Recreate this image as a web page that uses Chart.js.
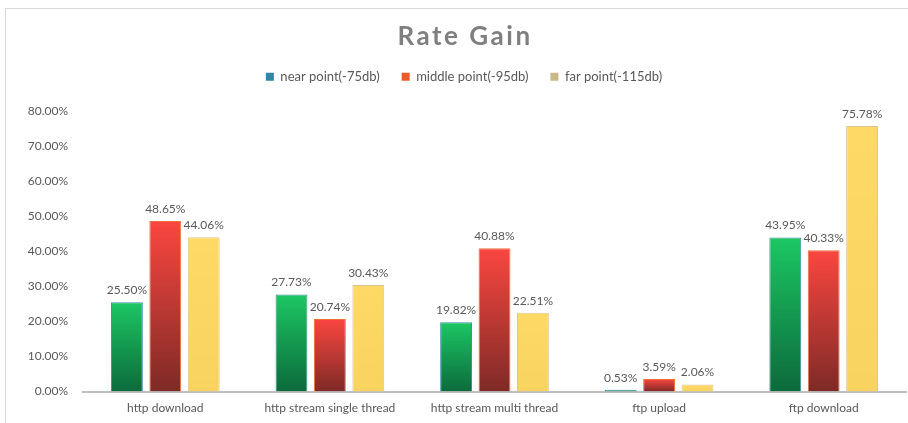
<!DOCTYPE html>
<html>
<head>
<meta charset="utf-8">
<script src="https://cdn.jsdelivr.net/npm/chart.js@4/dist/chart.umd.min.js"></script>
<style>
  html, body { margin: 0; padding: 0; background: #fff; }
  #wrap { position: relative; width: 908px; height: 423px; }
  #frame { position: absolute; left: 5px; top: 8px; right: 0; bottom: 0; border-left: 1px solid #d9d9d9; border-top: 1px solid #d9d9d9; }
  #rate-gain { position: absolute; left: 0; top: 0; }
</style>
</head>
<body>
<div id="wrap">
  <div id="frame"></div>
  <canvas id="rate-gain" width="908" height="423"></canvas>
</div>
<script>
(function() {

  const categorias = ['http download', 'http stream single thread', 'http stream multi thread', 'ftp upload', 'ftp download'];
  const nearPoint = [25.50, 27.73, 19.82, 0.53, 43.95];
  const middlePoint = [48.65, 20.74, 40.88, 3.59, 40.33];
  const farPoint = [44.06, 30.43, 22.51, 2.06, 75.78];
  const yTicks = [0, 10, 20, 30, 40, 50, 60, 70, 80];

  const fuente = 'Lato, "Open Sans", sans-serif';
  const gris = '#595959';
  const titulo = 'Rate Gain';
  const corrimiento = 11; // titulo y leyenda algo a la derecha, como en el original

  // degradado vertical de cada barra, de la punta a la base
  function degradado(arriba, abajo) {
    return function(context) {
      const chart = context.chart;
      if (!chart.chartArea || context.raw === undefined) return arriba;
      const y = chart.scales.y;
      const top = y.getPixelForValue(context.raw);
      const base = y.getPixelForValue(0);
      const g = chart.ctx.createLinearGradient(0, top, 0, Math.max(base, top + 1));
      g.addColorStop(0, arriba);
      g.addColorStop(1, abajo);
      return g;
    };
  }

  // valores encima de cada barra
  const etiquetas = {
    id: 'etiquetas',
    afterDatasetsDraw(chart) {
      const ctx = chart.ctx;
      ctx.save();
      ctx.font = '12px ' + fuente;
      ctx.fillStyle = gris;
      ctx.textAlign = 'center';
      ctx.textBaseline = 'bottom';
      chart.data.datasets.forEach((ds, i) => {
        chart.getDatasetMeta(i).data.forEach((bar, j) => {
          ctx.fillText(ds.data[j].toFixed(2) + '%', bar.x, bar.y - 6);
        });
      });
      ctx.restore();
    }
  };

  // titulo con espaciado entre letras, en el hueco que deja el titulo transparente
  const tituloEspaciado = {
    id: 'tituloEspaciado',
    afterDraw(chart) {
      const t = chart.titleBlock;
      if (!t) return;
      const ctx = chart.ctx;
      ctx.save();
      ctx.font = 'bold 26px ' + fuente;
      ctx.letterSpacing = '2.5px';
      ctx.fillStyle = '#7f7f7f';
      ctx.textAlign = 'center';
      ctx.textBaseline = 'middle';
      ctx.fillText(titulo, (t.left + t.right) / 2 + 1 + corrimiento, t.top + 15);
      ctx.restore();
    }
  };

  // mas aire debajo de la leyenda, y la leyenda corrida a la derecha
  const leyendaAjuste = {
    id: 'leyendaAjuste',
    beforeInit(chart) {
      const leg = chart.legend;
      if (!leg) return;
      const fit = leg.fit;
      leg.fit = function() {
        fit.apply(this, arguments);
        this.height += 18;
      };
      const draw = leg.draw;
      leg.draw = function() {
        this.ctx.save();
        this.ctx.translate(corrimiento, 0);
        draw.apply(this, arguments);
        this.ctx.restore();
      };
    }
  };

  const ctx = document.querySelector('#rate-gain');
  new Chart(ctx, {
    type: 'bar',
    data: {
      labels: categorias,
      datasets: [
        {
          label: 'near point(-75db)',
          data: nearPoint,
          backgroundColor: degradado('#1cc763', '#0c6a3c'),
          borderColor: '#3a8fa0',
          borderWidth: 1,
          legendColor: '#2e86ab'
        },
        {
          label: 'middle point(-95db)',
          data: middlePoint,
          backgroundColor: degradado('#fb4640', '#7e2a26'),
          borderColor: '#f0703a',
          borderWidth: 1,
          legendColor: '#f05a28'
        },
        {
          label: 'far point(-115db)',
          data: farPoint,
          backgroundColor: degradado('#ffd966', '#f8d35f'),
          borderColor: '#d9c58f',
          borderWidth: 1,
          legendColor: '#c9b98a'
        }
      ]
    },
    options: {
      responsive: false,
      animation: false,
      layout: { padding: { left: 0, right: 2, top: 22, bottom: -1 } },
      datasets: { bar: { categoryPercentage: 0.7, barPercentage: 0.83 } },
      scales: {
        x: {
          grid: { display: false, drawTicks: false },
          border: { color: '#bfbfbf', width: 2 },
          ticks: { color: gris, font: { family: fuente, size: 12 }, padding: 9, maxRotation: 0 }
        },
        y: {
          min: 0,
          max: 80,
          afterBuildTicks: scale => { scale.ticks = yTicks.map(v => ({ value: v })); },
          afterFit: scale => { scale.width = 83; },
          grid: { display: false, drawTicks: false },
          border: { display: false },
          ticks: {
            color: gris,
            font: { family: fuente, size: 12 },
            padding: 15,
            callback: v => v.toFixed(2) + '%'
          }
        }
      },
      plugins: {
        title: {
          display: true,
          text: titulo,
          color: 'rgba(0,0,0,0)',
          font: { family: fuente, size: 26, weight: 'bold' },
          padding: { top: 0, bottom: -5 }
        },
        legend: {
          labels: {
            color: gris,
            font: { family: fuente, size: 13 },
            boxWidth: 8,
            boxHeight: 8,
            padding: 22,
            generateLabels: chart => chart.data.datasets.map((ds, i) => ({
              text: ds.label,
              fillStyle: ds.legendColor,
              strokeStyle: ds.legendColor,
              lineWidth: 0,
              datasetIndex: i,
              fontColor: gris
            }))
          }
        },
        tooltip: { enabled: false }
      }
    },
    plugins: [etiquetas, tituloEspaciado, leyendaAjuste]
  });

})();
</script>
</body>
</html>
